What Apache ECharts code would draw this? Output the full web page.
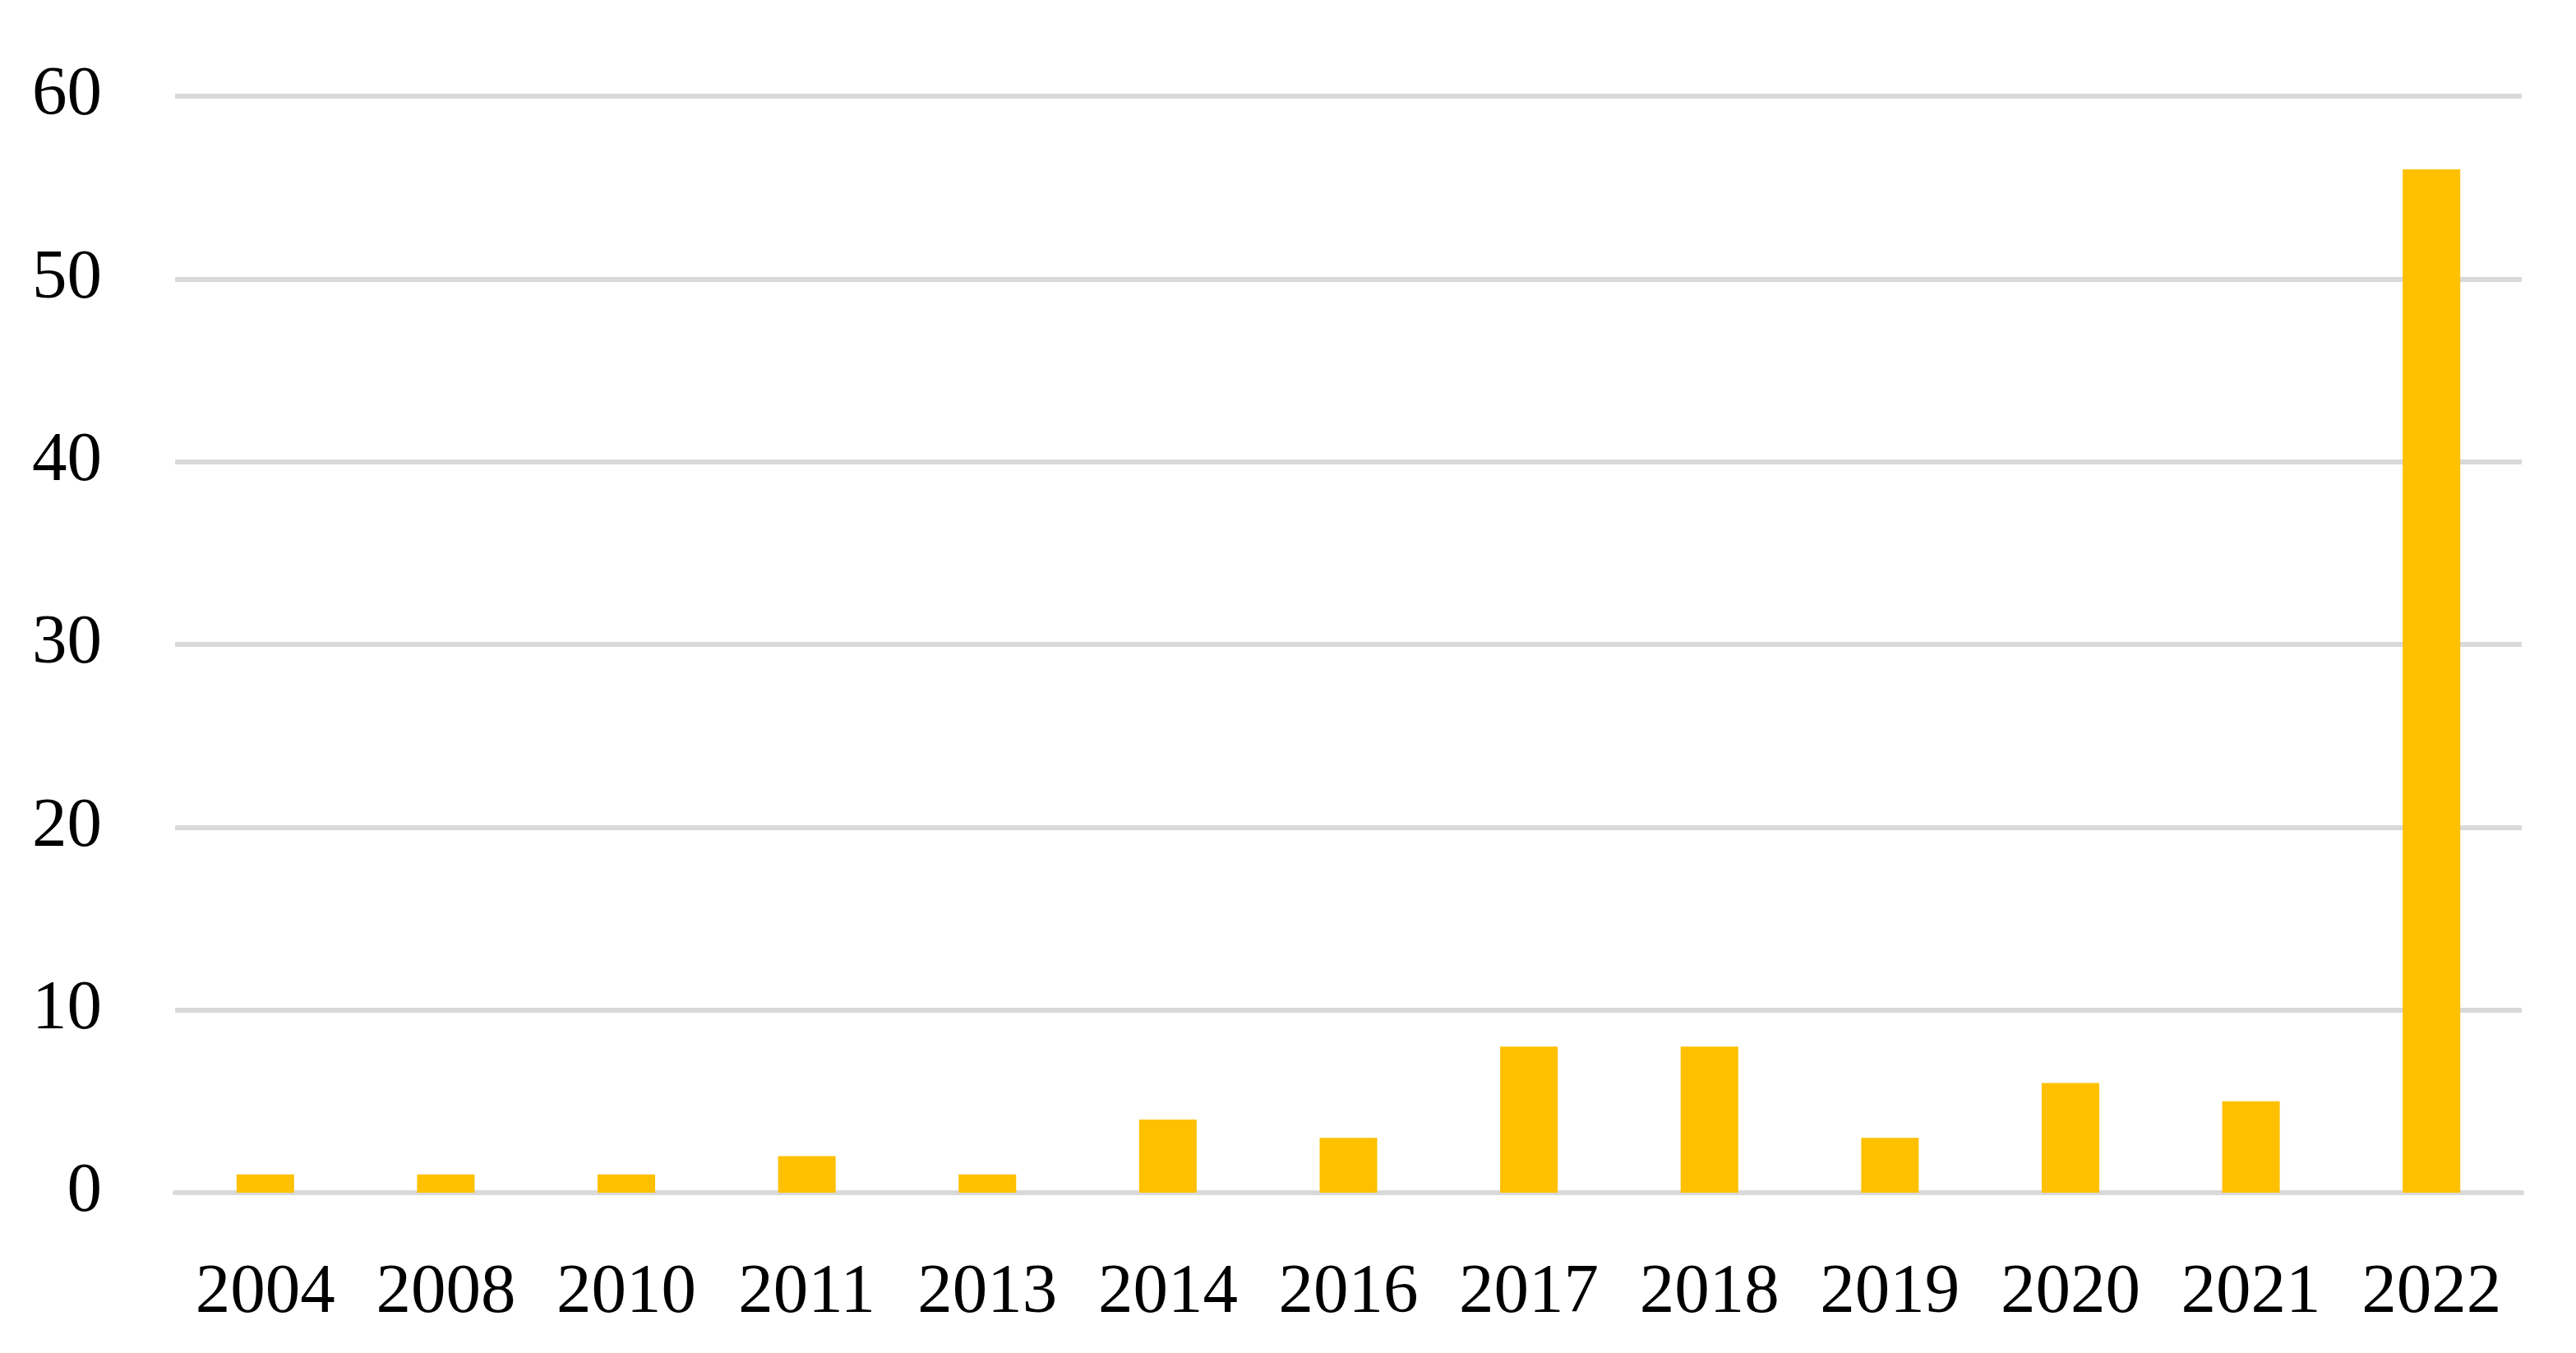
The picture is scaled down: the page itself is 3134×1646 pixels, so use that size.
<!DOCTYPE html>
<html><head><meta charset="utf-8">
<script src="https://cdn.jsdelivr.net/npm/echarts@6/dist/echarts.min.js"></script>
<style>html,body{margin:0;padding:0;background:#fff;}#c{width:3134px;height:1646px;}</style>
</head><body><div id="c"></div>
<script>
const categories = ['2004','2008','2010','2011','2013','2014','2016','2017','2018','2019','2020','2021','2022'];
const values = [1,1,1,2,1,4,3,8,8,3,6,5,56];
const yTicks = [0,10,20,30,40,50,60];

const font = '"Palatino Linotype","Book Antiqua",Palatino,"Liberation Serif",serif';
const chart = echarts.init(document.getElementById('c'), null, {renderer:'canvas'});
chart.setOption({
  animation:false,
  backgroundColor:'#fff',
  grid:{left:213,right:66,top:117,bottom:195,containLabel:false},
  xAxis:{type:'category',data:categories,
    axisLine:{show:true,lineStyle:{color:'#D9D9D9',width:6}},
    axisTick:{show:false},
    axisLabel:{interval:0,color:'#000',fontFamily:font,fontSize:85,margin:80}},
  yAxis:{type:'value',min:yTicks[0],max:yTicks[yTicks.length-1],interval:10,
    axisLine:{show:false},axisTick:{show:false},
    splitLine:{lineStyle:{color:'#D9D9D9',width:6}},
    axisLabel:{color:'#000',fontFamily:font,fontSize:85,margin:89}},
  series:[{type:'bar',data:values,barWidth:70,itemStyle:{color:'#FFC000'}}]
});
</script></body></html>
